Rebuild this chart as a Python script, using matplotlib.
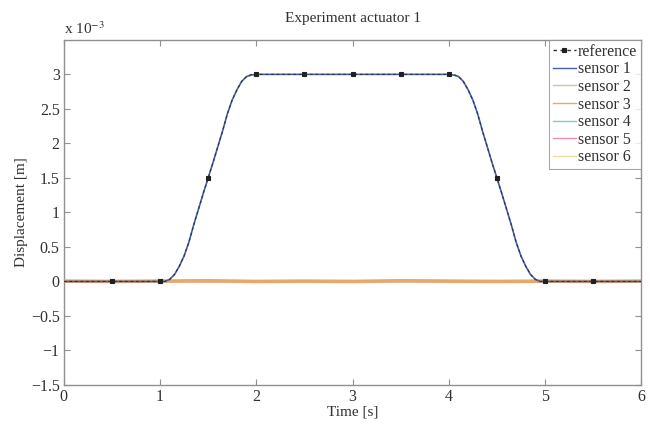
import matplotlib
matplotlib.use("Agg")
import matplotlib.pyplot as plt
from matplotlib.ticker import FuncFormatter, FixedLocator

# ---- data (displacement in units of 1e-3 m) ----
t_ref = [0.0, 0.5, 1.0, 1.05, 1.10, 1.15, 1.20, 1.25, 1.30, 1.35, 1.40, 1.45, 1.50,
         1.55, 1.60, 1.65, 1.70, 1.75, 1.80, 1.85, 1.90, 1.95, 2.0, 2.5, 3.0, 3.5,
         4.0, 4.05, 4.10, 4.15, 4.20, 4.25, 4.30, 4.35, 4.40, 4.45, 4.50, 4.55, 4.60,
         4.65, 4.70, 4.75, 4.80, 4.85, 4.90, 4.95, 5.0, 5.5, 6.0]
reference = [0.0, 0.0, 0.0, 0.0, 0.03, 0.10, 0.22, 0.37, 0.57, 0.82, 1.05, 1.28, 1.50,
             1.72, 1.95, 2.18, 2.43, 2.63, 2.78, 2.90, 2.97, 3.0, 3.0, 3.0, 3.0, 3.0,
             3.0, 3.0, 2.97, 2.90, 2.78, 2.63, 2.43, 2.18, 1.95, 1.72, 1.50, 1.28, 1.05,
             0.82, 0.57, 0.37, 0.22, 0.10, 0.03, 0.0, 0.0, 0.0, 0.0]
sensor1 = [0.0, 0.0, 0.0, 0.0, 0.03, 0.10, 0.22, 0.37, 0.57, 0.82, 1.05, 1.28, 1.50,
           1.72, 1.95, 2.18, 2.43, 2.63, 2.78, 2.90, 2.97, 2.99, 3.0, 3.0, 3.0, 3.0,
           3.0, 2.99, 2.97, 2.90, 2.78, 2.63, 2.43, 2.18, 1.95, 1.72, 1.50, 1.28, 1.05,
           0.82, 0.57, 0.37, 0.22, 0.10, 0.03, 0.0, 0.0, 0.0, 0.0]

t_s = [0.0, 0.5, 1.0, 1.5, 2.0, 2.5, 3.0, 3.5, 4.0, 4.5, 5.0, 5.5, 6.0]
sensor2 = [0.0, 0.005, -0.005, 0.0, 0.005, 0.0, -0.005, 0.005, 0.0, -0.005, 0.0, 0.005, 0.0]
sensor3 = [0.005, 0.0, 0.005, 0.01, 0.0, 0.005, 0.0, 0.01, 0.005, 0.0, 0.005, 0.0, 0.005]
sensor4 = [0.0, -0.005, 0.0, 0.0, -0.005, 0.0, 0.0, -0.005, 0.0, 0.0, -0.005, 0.0, 0.0]
sensor5 = [0.0, 0.0, 0.005, -0.005, 0.0, 0.0, 0.005, 0.0, -0.005, 0.0, 0.0, 0.005, 0.0]
sensor6 = [0.005, 0.0, 0.0, 0.005, 0.0, 0.005, 0.0, 0.0, 0.005, 0.0, 0.005, 0.0, 0.005]

sensor_names = ["sensor 1", "sensor 2", "sensor 3", "sensor 4", "sensor 5", "sensor 6"]
sensor_colors = ["#4860a8", "#b8d0a8", "#e8a868", "#80d0c8", "#f090b0", "#f0e0a0"]

x_ticks = [0, 1, 2, 3, 4, 5, 6]
y_ticks = [-1.5, -1.0, -0.5, 0.0, 0.5, 1.0, 1.5, 2.0, 2.5, 3.0]

# ---- style ----
plt.rcParams['font.family'] = ['Liberation Serif', 'DejaVu Serif']
plt.rcParams['mathtext.fontset'] = 'stix'
plt.rcParams['font.size'] = 11

fig = plt.figure(figsize=(6.51, 4.24), dpi=100)
ax = fig.add_axes([0.098, 0.092, 0.887, 0.814])

marker_idx = [i for i, t in enumerate(t_ref)
              if abs(t * 2 - round(t * 2)) < 1e-9 and 0 < t < 6]
ax.plot(t_ref, sensor1, color=sensor_colors[0], lw=1.2, label=sensor_names[0], zorder=4)
ax.plot(t_ref, reference, color='#303040', ls=(0, (2.5, 2.5)), lw=0.8,
        marker='s', markersize=3.2, mew=0.8, markeredgecolor='#202020',
        markerfacecolor='#202020', markevery=marker_idx,
        label='reference', zorder=5)
others = [sensor2, sensor3, sensor4, sensor5, sensor6]
widths = [1.0, 2.6, 1.0, 1.0, 1.0]
zords = [3, 3.6, 3.1, 3.2, 3.3]
for name, col, vals, w, z in zip(sensor_names[1:], sensor_colors[1:], others, widths, zords):
    ax.plot(t_s, vals, color=col, lw=w, label=name, zorder=z)

ax.set_xlim(0, 6)
ax.set_ylim(-1.5, 3.5)
ax.xaxis.set_major_locator(FixedLocator(x_ticks))
ax.yaxis.set_major_locator(FixedLocator(y_ticks))
fmt = FuncFormatter(lambda v, p: ('%g' % v).replace('-', '\u2212'))
ax.xaxis.set_major_formatter(fmt)
ax.yaxis.set_major_formatter(fmt)
ax.tick_params(direction='in', top=True, right=True, length=4, width=0.8,
               colors='#909090', labelcolor='#303030', labelsize=11.5, pad=3)
for s in ax.spines.values():
    s.set_color('#909090')
    s.set_linewidth(1.0)

ax.set_title('Experiment actuator 1', fontsize=11, color='#303030', pad=13)
ax.set_xlabel('Time [s]', fontsize=11, color='#303030', labelpad=0)
ax.set_ylabel('Displacement [m]', fontsize=11, color='#303030', labelpad=2)
ax.text(0.0, 1.008, r'x 10$^{-3}$', transform=ax.transAxes, ha='left', va='bottom',
        fontsize=11, color='#303030')

handles, labels = ax.get_legend_handles_labels()
order = [1, 0, 2, 3, 4, 5, 6]
leg = ax.legend([handles[i] for i in order], [labels[i] for i in order],
                loc='upper right', borderaxespad=0, fontsize=11.5, frameon=True,
                fancybox=False, edgecolor='#909090', handlelength=1.4,
                handletextpad=0.15, labelspacing=0.1, borderpad=0.25)
leg.get_frame().set_linewidth(0.8)
for ln in leg.get_lines():
    ln.set_linewidth(1.0)
for txt in leg.get_texts():
    txt.set_color('#303030')

fig.savefig('out.png', dpi=100)
